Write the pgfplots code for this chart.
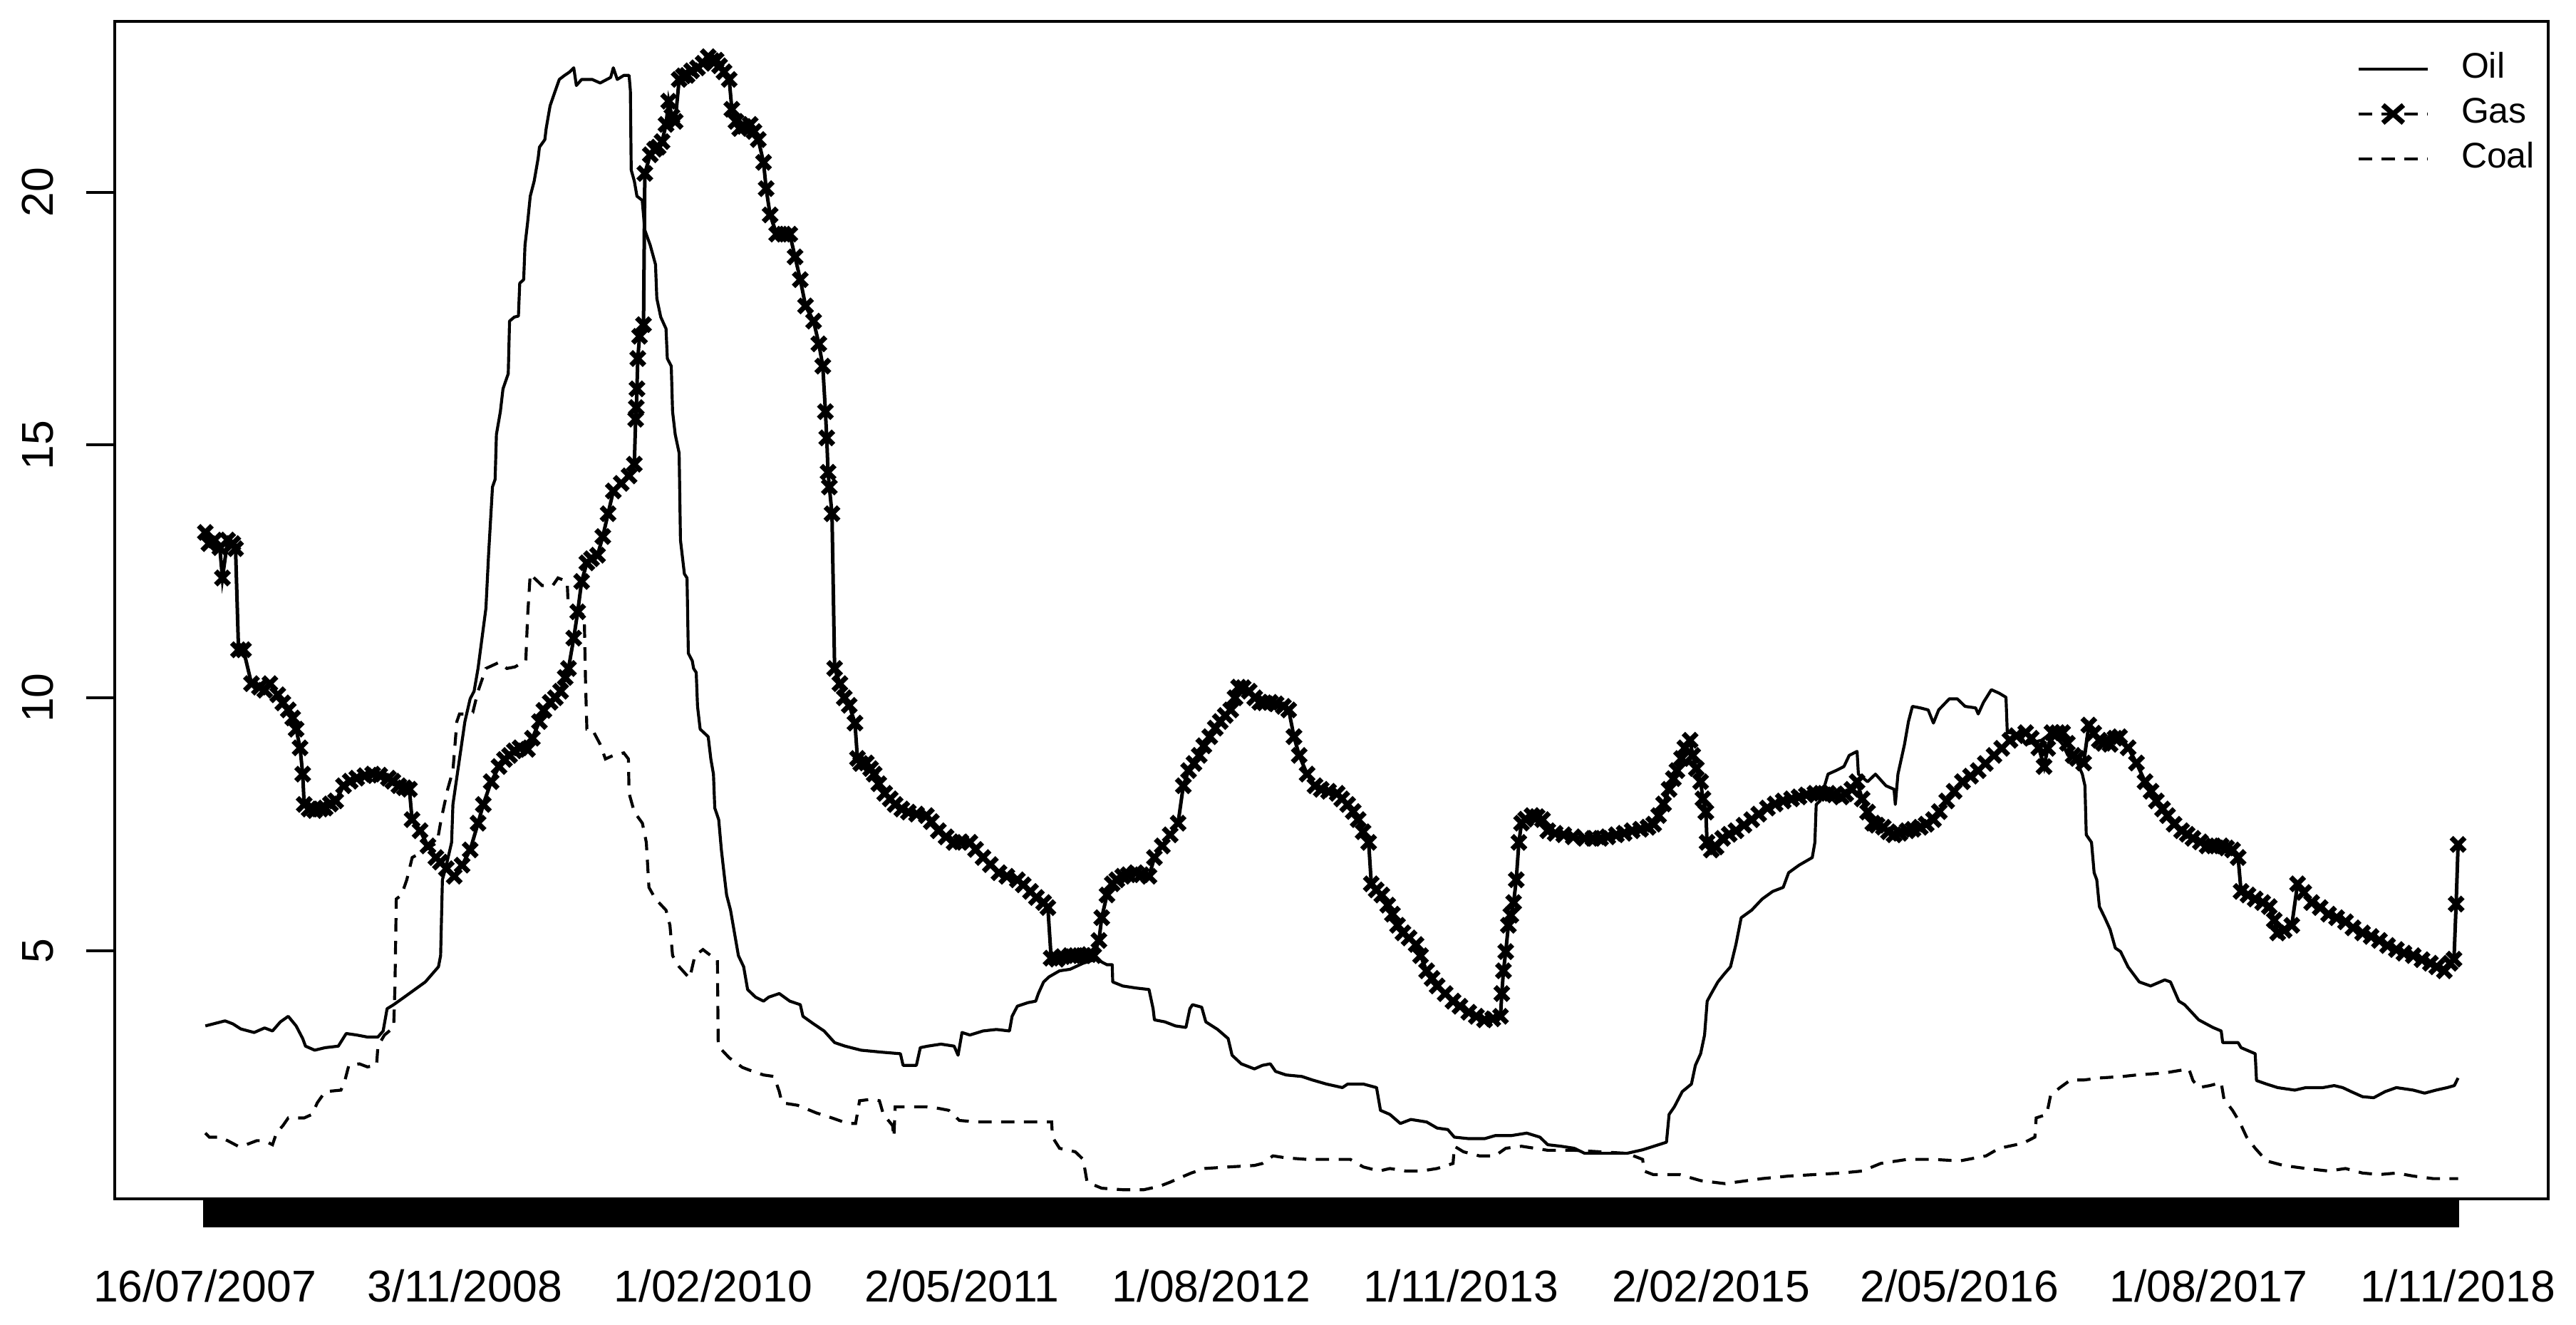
\documentclass[border=0pt]{standalone}
\usepackage{fontspec}
\setmainfont{Liberation Sans}
\usepackage{pgfplots}
\pgfplotsset{compat=1.18}
\begin{document}
\begin{tikzpicture}
\begin{axis}[
  scale only axis,
  width=819.6pt, height=396.5pt,
  xmin=69.6, xmax=1551.9, ymin=0.09, ymax=23.38,
  axis line style={line width=0.9pt},
  tick align=outside,
  xtick pos=left, ytick pos=left,
  major tick length=9.6pt,
  tick style={line width=0.9pt, black},
  xtick={124.5,282.8,434.2,585.6,737.6,889.6,1041.9,1193.3,1345.0,1497},
  xticklabels={16/07/2007,3/11/2008,1/02/2010,2/05/2011,1/08/2012,1/11/2013,2/02/2015,2/05/2016,1/08/2017,1/11/2018},
  extra x ticks={124.5,126.5,...,1496.5},
  extra x tick labels={},
  extra x tick style={major tick length=9.6pt, tick style={line width=1.4pt, black}},
  ytick={5,10,15,20},
  /pgf/number format/assume math mode=true,
  every tick label/.append style={font=\fontsize{15}{18}\selectfont},
  xticklabel style={anchor=north, inner sep=0pt},
  xticklabel shift=13.9pt,
  yticklabel style={rotate=90, anchor=south, inner sep=0pt},
  yticklabel shift=10.8pt,
  legend cell align=left,
  legend style={at={(0.9212,0.975)}, anchor=north west, draw=none, fill=none,
    inner sep=0pt, row sep=3.1pt, font=\fontsize{12}{14.4}\selectfont,
    nodes={inner sep=0pt, text height=9pt, text depth=3pt},
    /tikz/every odd column/.append style={column sep=10.8pt}},
]
\coordinate (SW) at (rel axis cs:0,0);
% Oil
\addplot[black, line width=1pt, line join=round,
  legend image code/.code={\draw[black, line width=1pt] (0pt,0pt) -- (23.3pt,0pt);}]
coordinates {
(124.8,3.51)(136.8,3.61)(141.6,3.55)(146.4,3.45)(154.5,3.38)(160.9,3.47)(165.7,3.41)(170.5,3.59)(175.3,3.70)(180.1,3.51)(184.1,3.26)(185.8,3.11)(191.4,3.03)(197.8,3.08)(205.8,3.11)(210.6,3.36)(217.0,3.33)(223.5,3.29)(229.9,3.29)(233.1,3.41)(235.5,3.85)(239.5,3.93)(246.0,4.08)(252.4,4.23)(258.8,4.38)(266.8,4.68)(268.1,4.90)(269.2,6.40)(271.6,6.69)(274.8,7.14)(275.6,7.89)(282.9,9.53)(286.1,9.98)(288.5,10.13)(290.9,10.58)(295.7,11.77)(297.3,12.82)(299.7,14.17)(301.3,14.32)(302.1,15.21)(304.5,15.66)(306.1,16.11)(309.3,16.41)(310.1,17.45)(313,17.53)(315.5,17.55)(316.3,18.20)(318.7,18.27)(319.5,18.95)(321.1,19.40)(322.7,19.92)(325.1,20.22)(327.5,20.67)(328.3,20.89)(331.6,21.04)(332.4,21.26)(334.8,21.71)(338.0,22.01)(340.4,22.23)(343.6,22.31)(346.8,22.38)(349.2,22.46)(350.8,22.11)(354.0,22.23)(360.4,22.23)(365.3,22.16)(371.7,22.27)(373.3,22.46)(375.7,22.23)(379.7,22.31)(382.9,22.31)(383.7,22.01)(384.2,20.44)(386.1,20.22)(387.7,19.92)(390.9,19.84)(392.5,19.25)(395.8,18.95)(399.0,18.57)(399.8,17.90)(402.2,17.53)(405.4,17.30)(406.2,16.71)(408.6,16.56)(409.4,15.66)(411.0,15.21)(413.4,14.84)(414.2,13.12)(416.6,12.45)(418.2,12.37)(419.0,10.88)(421.4,10.73)(422.2,10.58)(423.8,10.50)(424.6,9.83)(426.2,9.38)(431.1,9.23)(432.7,8.79)(434.3,8.49)(435.1,7.82)(437.5,7.59)(439.1,7.00)(440.7,6.54)(442.3,6.10)(444.7,5.80)(447.1,5.35)(449.5,4.90)(452.7,4.68)(455.1,4.23)(459.9,4.08)(464.8,4.00)(468.0,4.08)(474.4,4.15)(480.8,4.00)(487.2,3.93)(488.8,3.70)(495.3,3.55)(501.7,3.41)(508.1,3.18)(514.5,3.11)(524.2,3.03)(537.0,2.99)(548.2,2.96)(549.8,2.73)(557.9,2.73)(560.3,3.08)(564.8,3.11)(572.9,3.15)(580.9,3.11)(583.3,2.93)(585.7,3.38)(590.5,3.33)(598.5,3.41)(606.6,3.44)(614.6,3.41)(616.2,3.70)(619.4,3.90)(625.8,3.97)(630.6,4.00)(632.2,4.15)(635.4,4.38)(638.7,4.48)(645.1,4.60)(651.5,4.63)(659.5,4.75)(667.5,4.83)(674.0,4.72)(677.2,4.72)(677.5,4.38)(683.6,4.30)(691.6,4.26)(699.6,4.23)(702.1,3.85)(702.9,3.63)(709.3,3.59)(715.7,3.51)(722.1,3.48)(724.5,3.85)(726.1,3.93)(731.7,3.88)(734.2,3.59)(741.4,3.44)(747.8,3.26)(750.2,2.93)(755.8,2.76)(763.8,2.66)(768.7,2.73)(773.5,2.76)(776.7,2.61)(783.1,2.54)(792.7,2.51)(799.2,2.44)(807.7,2.36)(817.4,2.29)(820.6,2.36)(830.2,2.36)(838.2,2.29)(840.6,1.84)(846.3,1.76)(852.7,1.58)(859.1,1.66)(868.7,1.61)(875.1,1.49)(881.6,1.46)(885.6,1.31)(894.4,1.28)(904.0,1.28)(910.4,1.34)(920.1,1.34)(929.7,1.39)(937.7,1.31)(942.5,1.16)(950.6,1.13)(958.6,1.09)(965.0,0.99)(974.6,0.99)(990.7,0.99)(1000.3,1.06)(1010.0,1.16)(1014.8,1.21)(1016.4,1.76)(1019.6,1.91)(1024.4,2.21)(1030.0,2.36)(1032.4,2.73)(1035.6,2.96)(1038.0,3.33)(1039.6,4.00)(1042.1,4.15)(1046.1,4.38)(1049.8,4.53)(1053.8,4.68)(1057.1,5.12)(1060.3,5.65)(1066.7,5.80)(1073.1,6.02)(1079.5,6.17)(1085.9,6.25)(1089.2,6.54)(1095.6,6.69)(1103.6,6.84)(1105.2,7.14)(1106.0,7.89)(1108.4,7.96)(1113.2,8.49)(1118.0,8.56)(1122.9,8.64)(1126.1,8.86)(1130.9,8.94)(1131.7,8.49)(1137.3,8.34)(1142.1,8.49)(1148.5,8.26)(1153.4,8.19)(1154.2,7.89)(1155.8,8.49)(1159.8,9.08)(1162.2,9.53)(1164.6,9.83)(1169.4,9.80)(1174.2,9.76)(1177.4,9.50)(1180.6,9.76)(1187.1,9.98)(1191.9,9.98)(1196.7,9.83)(1203.1,9.80)(1204.7,9.68)(1207.9,9.91)(1212.7,10.16)(1217.5,10.09)(1221.6,10.01)(1222.4,9.31)(1224.0,9.31)(1230.4,9.26)(1233.6,9.08)(1243.2,9.16)(1249.6,9.31)(1256.1,9.08)(1259.3,8.86)(1264.1,8.79)(1268.1,8.49)(1269.7,8.26)(1270.5,7.29)(1273.7,7.14)(1275.3,6.54)(1276.9,6.40)(1278.5,5.87)(1281.8,5.65)(1285.0,5.42)(1288.2,5.05)(1291.4,4.98)(1295.9,4.68)(1302.8,4.38)(1309.7,4.30)(1318.3,4.42)(1321.8,4.38)(1326.9,4.00)(1330.4,3.93)(1339.0,3.63)(1347.6,3.48)(1352.7,3.41)(1353.6,3.18)(1363.0,3.18)(1364.8,3.08)(1373.4,2.96)(1374.2,2.43)(1380.3,2.36)(1387.1,2.29)(1397.5,2.24)(1404.3,2.29)(1414.7,2.29)(1421.5,2.33)(1426.7,2.29)(1431.9,2.21)(1438.8,2.11)(1445.6,2.09)(1452.5,2.21)(1459.4,2.29)(1469.7,2.24)(1476.6,2.18)(1483.5,2.24)(1490.4,2.29)(1494.7,2.33)(1497,2.48)
};
\addlegendentry{Oil}
% Gas
\addplot[black, line width=1.2pt, mark=x, mark size=3.2pt, mark options={solid, line width=1.7pt},
  legend image code/.code={\draw[black, line width=1pt, dash pattern=on 4.5pt off 3.2pt] (0pt,0pt) -- (23.3pt,0pt);
     \draw[black, line width=1.7pt] (8.2pt,-3pt) -- (15.1pt,3pt) (8.2pt,3pt) -- (15.1pt,-3pt);}]
coordinates {
(124.8,13.27)(127,13.05)(130.4,13.12)(133.6,12.97)(135.2,12.37)(138.4,13.12)(141.5,13.05)(143.2,12.95)(145,10.95)(148.0,10.95)(152.9,10.28)(157.7,10.21)(161,10.15)(164.1,10.28)(168.9,10.06)(172,9.9)(175.3,9.76)(178,9.6)(180.1,9.38)(182.5,9.01)(184.1,8.49)(185.0,7.89)(188,7.8)(191.4,7.77)(195,7.8)(197.8,7.82)(201,7.9)(204.2,7.96)(209.0,8.26)(213,8.35)(217.0,8.41)(222,8.46)(226.7,8.49)(231,8.47)(236.3,8.41)(239,8.35)(242.7,8.26)(246,8.22)(249.1,8.19)(250.7,7.59)(255.6,7.37)(260.4,7.07)(265.2,6.84)(268,6.75)(271.6,6.62)(276.4,6.47)(281.2,6.69)(286.1,6.99)(290.9,7.52)(294.1,7.89)(298.9,8.34)(303.7,8.64)(307,8.78)(310.1,8.86)(313,8.95)(316.5,9.01)(321.0,8.98)(324,9.2)(328.3,9.53)(331,9.75)(334.8,9.91)(338,10.0)(341.2,10.13)(344,10.4)(346.0,10.58)(349.2,11.18)(351.6,11.70)(354.0,12.30)(357.2,12.67)(360,12.75)(363.7,12.82)(366.9,13.19)(370.1,13.64)(373.3,14.09)(378.1,14.24)(382.9,14.39)(386.1,14.62)(386.9,15.51)(387.3,15.74)(387.7,16.11)(388.2,16.71)(389.3,17.15)(391.7,17.38)(392.5,20.37)(395.8,20.74)(398.5,20.85)(400.6,20.89)(403,21.0)(405.4,21.34)(407,21.8)(409,21.5)(411,21.4)(413.4,22.23)(416,22.3)(418.2,22.31)(421,22.4)(424.6,22.46)(428,22.55)(431.1,22.68)(433.5,22.6)(435.9,22.61)(438,22.5)(440.7,22.38)(443.9,22.23)(445.5,21.64)(448,21.4)(450.3,21.26)(453,21.3)(456.7,21.34)(459,21.2)(461.6,21.04)(464.8,20.59)(466.4,20.07)(468.8,19.55)(472.8,19.17)(477,19.17)(480.8,19.17)(484.0,18.72)(487.2,18.27)(490.4,17.75)(495.3,17.45)(498.5,17.00)(500.9,16.56)(502.5,15.66)(503.3,15.14)(504.1,14.46)(504.9,14.17)(506.5,13.64)(508.1,10.58)(511.3,10.28)(514,10.0)(517,9.85)(520.5,9.5)(522,8.8)(524,8.7)(527.4,8.71)(530,8.6)(532.2,8.49)(535,8.3)(538.6,8.11)(542,8.0)(545.0,7.89)(549,7.8)(553.0,7.74)(558,7.7)(564.0,7.67)(567,7.55)(571.3,7.37)(576,7.25)(580.9,7.14)(585,7.15)(590.5,7.14)(594,7.0)(598.5,6.84)(603,6.7)(608.2,6.54)(613,6.47)(619.4,6.40)(623,6.3)(627.4,6.17)(631,6.05)(635.4,5.95)(638,5.85)(640,4.85)(643.5,4.83)(647,4.88)(651.5,4.90)(655,4.9)(659.5,4.90)(663,4.92)(665.9,4.90)(669.1,5.20)(670.8,5.65)(674.0,6.10)(677.2,6.32)(680,6.4)(683.6,6.47)(687,6.5)(691.6,6.54)(695,6.5)(699.6,6.47)(702.9,6.84)(707.7,7.07)(712.5,7.29)(717.3,7.52)(720.5,8.26)(723.7,8.56)(727,8.7)(730.2,8.86)(733,9.05)(736.6,9.23)(740,9.4)(743.0,9.53)(746,9.65)(749.4,9.76)(752,10.0)(754.2,10.21)(757,10.2)(760.6,10.13)(764,10.0)(767.1,9.91)(770,9.9)(773.5,9.91)(777,9.88)(781.5,9.83)(784.7,9.76)(787.9,9.23)(791.1,8.86)(795.9,8.49)(800.7,8.26)(804.5,8.19)(809,8.15)(814.2,8.11)(817,8.0)(820.6,7.89)(824,7.75)(827.0,7.59)(830,7.35)(833.4,7.14)(835.0,6.32)(838,6.2)(841.4,6.10)(845,5.9)(847.9,5.72)(851,5.5)(854.3,5.35)(858,5.25)(862.3,5.12)(865,4.9)(868.7,4.60)(872,4.45)(875.1,4.30)(880,4.15)(884.8,4.00)(889,3.9)(894.4,3.78)(899,3.7)(904.0,3.63)(909,3.65)(913.7,3.70)(914.5,4.15)(915.5,4.60)(916.9,4.98)(918.5,5.50)(920,5.7)(921.7,5.95)(923.3,6.40)(924.9,7.14)(926.5,7.52)(929,7.6)(932.9,7.67)(936,7.65)(939.3,7.59)(942.5,7.37)(947,7.32)(952.2,7.29)(958,7.25)(965.0,7.22)(970,7.22)(974.6,7.22)(979,7.25)(984.3,7.29)(989,7.32)(993.9,7.37)(999,7.4)(1003.5,7.44)(1007,7.5)(1010.0,7.67)(1013,7.9)(1016.4,8.19)(1019,8.4)(1021.2,8.56)(1024,8.8)(1026.0,9.01)(1029.2,9.16)(1030.8,8.86)(1033,8.6)(1035.6,8.34)(1037,8.0)(1038.8,7.74)(1039.5,7.14)(1042.1,6.99)(1045,7.05)(1049.0,7.22)(1053,7.3)(1057.1,7.37)(1062,7.48)(1066.7,7.59)(1071,7.7)(1076.3,7.82)(1081,7.9)(1085.9,7.96)(1091,8.0)(1095.6,8.04)(1100,8.08)(1105.2,8.11)(1109,8.11)(1113.2,8.11)(1117,8.08)(1121.3,8.04)(1124,8.1)(1127.7,8.19)(1130.9,8.34)(1134,8.0)(1137.3,7.74)(1140.5,7.52)(1143,7.48)(1146.9,7.44)(1150,7.35)(1153.4,7.29)(1157,7.32)(1161.4,7.37)(1165,7.4)(1169.4,7.44)(1173,7.5)(1177.4,7.59)(1181,7.75)(1185.5,7.96)(1190,8.15)(1195.1,8.34)(1200,8.45)(1204.7,8.56)(1209,8.7)(1214.3,8.86)(1219,9.0)(1224.0,9.16)(1228,9.25)(1233.6,9.31)(1237,9.2)(1241.6,9.01)(1244.8,8.64)(1247,9.0)(1249.6,9.31)(1253,9.31)(1256.1,9.31)(1259,9.1)(1262.5,8.86)(1265,8.8)(1268.9,8.71)(1272.1,9.46)(1275,9.3)(1278.5,9.16)(1281,9.1)(1285.0,9.08)(1288,9.2)(1290.8,9.23)(1296.0,9.01)(1301.1,8.71)(1306.3,8.34)(1310,8.15)(1313.2,7.96)(1317,7.8)(1320.0,7.67)(1324,7.5)(1328.6,7.37)(1332,7.3)(1335.5,7.22)(1340,7.15)(1344.1,7.07)(1348,7.07)(1352.7,7.07)(1356,7.03)(1359.6,6.99)(1363.0,6.84)(1364.8,6.17)(1369,6.1)(1373.4,6.02)(1378,5.95)(1382.0,5.87)(1385,5.6)(1387.1,5.35)(1391,5.4)(1395.7,5.50)(1399.2,6.32)(1403,6.15)(1407.8,5.95)(1413,5.85)(1418.1,5.72)(1423,5.65)(1428.4,5.57)(1433,5.45)(1438.8,5.35)(1444,5.28)(1449.1,5.20)(1454,5.1)(1459.4,5.02)(1464,4.95)(1469.7,4.90)(1475,4.82)(1480.1,4.75)(1484,4.68)(1488.6,4.60)(1492.1,4.75)(1494.5,4.83)(1495.8,5.92)(1497,7.10)
};
\addlegendentry{Gas}
% Coal
\addplot[black, line width=1pt, dash pattern=on 4.5pt off 3.2pt,
  legend image code/.code={\draw[black, line width=1pt, dash pattern=on 4.5pt off 3.2pt] (0pt,0pt) -- (23.3pt,0pt);}]
coordinates {
(124.8,1.39)(127.2,1.31)(133.6,1.31)(138.4,1.24)(144.8,1.13)(149.6,1.16)(156.1,1.24)(160.9,1.24)(165.7,1.16)(168.1,1.39)(172.1,1.54)(175.3,1.69)(185.0,1.69)(189.8,1.76)(193.0,1.99)(197.8,2.21)(207.4,2.24)(209.8,2.43)(212.2,2.73)(218.6,2.76)(223.5,2.70)(229.1,2.73)(229.9,3.11)(233.9,3.33)(239.5,3.48)(240.3,4.30)(241.1,6.02)(244.3,6.10)(247.5,6.40)(250.8,6.84)(258.8,6.99)(266.0,7.14)(268.4,7.59)(272.4,8.19)(275.6,8.56)(278.0,9.53)(279.6,9.68)(284.4,9.68)(287.7,9.71)(290.9,10.13)(292.5,10.28)(295.7,10.58)(303.7,10.70)(308.5,10.58)(313.3,10.61)(320.0,10.73)(321.1,11.62)(322.7,12.45)(325.1,12.37)(329.9,12.22)(336.4,12.22)(339.6,12.37)(345.2,12.30)(345.7,11.92)(350.0,11.77)(355.6,11.62)(356.4,10.28)(357.2,9.38)(360.4,9.38)(365.3,9.08)(368.5,8.79)(373.3,8.86)(379.7,8.91)(382.5,8.79)(382.9,8.11)(386.1,7.74)(391.0,7.52)(393.4,7.14)(395.0,6.25)(399.0,6.02)(405.4,5.80)(407.8,5.50)(409.4,4.90)(413.4,4.68)(419.8,4.45)(423.0,4.90)(427.9,5.02)(432.7,4.90)(436.7,4.83)(437.2,3.11)(443.9,2.88)(451.9,2.69)(456.7,2.63)(464.8,2.54)(471.2,2.51)(474.4,2.21)(476.0,1.99)(485.6,1.94)(496.9,1.79)(506.5,1.69)(516.1,1.58)(520.9,1.58)(523.3,2.03)(530.6,2.06)(535.4,2.03)(537.8,1.76)(543.4,1.54)(544.2,1.31)(545.0,1.91)(553.0,1.91)(564.0,1.91)(571.3,1.88)(577.7,1.84)(584.1,1.64)(595.3,1.61)(611.4,1.61)(627.4,1.61)(640.3,1.61)(640.8,1.31)(645.1,1.09)(654.7,1.02)(659.5,0.87)(661.9,0.42)(670.8,0.30)(683.6,0.27)(696.4,0.27)(706.1,0.34)(712.5,0.42)(717.3,0.49)(725.3,0.60)(733.4,0.69)(747.8,0.72)(763.8,0.75)(768.7,0.79)(775.1,0.94)(783.1,0.90)(795.9,0.87)(806.9,0.87)(814.2,0.87)(822.2,0.87)(830.2,0.72)(839.8,0.64)(846.3,0.69)(855.9,0.64)(865.5,0.64)(875.1,0.69)(884.8,0.79)(885.6,1.13)(891.2,1.02)(900.8,0.94)(910.4,0.94)(916.9,1.09)(926.5,1.13)(934.5,1.09)(942.5,1.05)(958.6,1.05)(974.6,1.02)(990.7,0.99)(1000.3,0.87)(1001.1,0.64)(1006.7,0.57)(1022.8,0.57)(1035.6,0.45)(1050.6,0.39)(1057.1,0.42)(1073.1,0.49)(1089.2,0.54)(1105.2,0.57)(1121.3,0.60)(1134.1,0.64)(1145.3,0.79)(1161.4,0.87)(1177.4,0.87)(1193.5,0.84)(1209.5,0.94)(1217.5,1.09)(1232.0,1.19)(1239.2,1.31)(1240.0,1.69)(1246.4,1.76)(1248.8,2.14)(1254.5,2.29)(1260.9,2.44)(1268.9,2.44)(1278.5,2.48)(1292.7,2.51)(1301.1,2.54)(1318.3,2.58)(1333.0,2.66)(1335.5,2.43)(1339.0,2.29)(1345.8,2.33)(1352.7,2.39)(1354.4,2.06)(1359.6,1.84)(1363.9,1.61)(1368.2,1.31)(1373.4,1.09)(1380.3,0.84)(1390.6,0.75)(1404.3,0.69)(1418.1,0.64)(1428.4,0.69)(1438.8,0.60)(1449.1,0.57)(1459.4,0.60)(1469.7,0.54)(1481.8,0.49)(1497,0.49)
};
\addlegendentry{Coal}
\end{axis}
\pgfresetboundingbox
\path (SW) ++(-38.64pt,-42.48pt) rectangle ++(867.6pt,446.16pt);
\end{tikzpicture}
\end{document}
